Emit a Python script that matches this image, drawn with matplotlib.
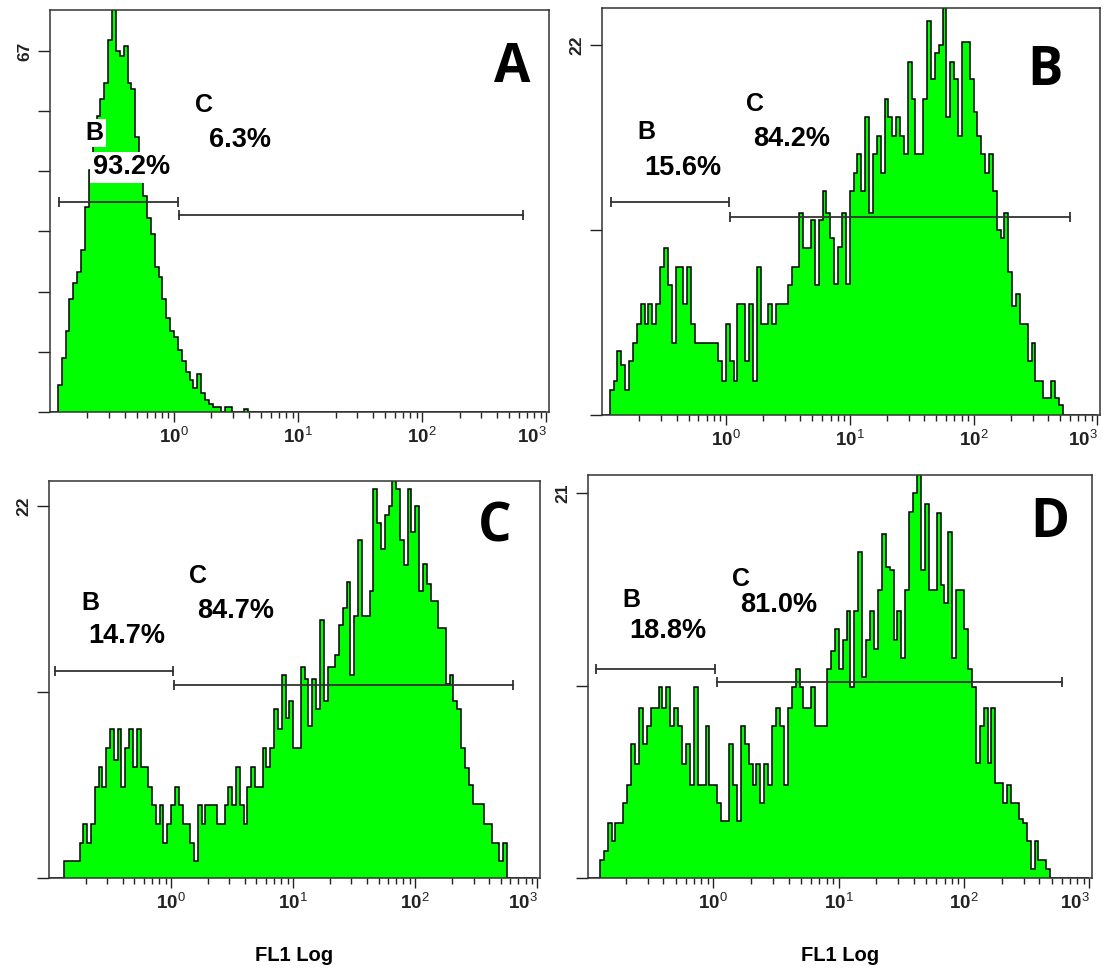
import matplotlib
matplotlib.use('Agg')
import matplotlib.pyplot as plt
import numpy as np

plt.rcParams['font.family'] = ['Liberation Sans', 'DejaVu Sans']
plt.rcParams['mathtext.fontset'] = 'custom'
plt.rcParams['mathtext.rm'] = 'Liberation Sans'
plt.rcParams['mathtext.bf'] = 'Liberation Sans:bold'

# channel counts, 128 log bins from 10^-1 to 10^3
counts_a = [0, 0, 5, 10, 15, 21, 24, 26, 30, 38, 45, 50, 55, 58, 61, 69,
            76, 67, 66, 68, 61, 60, 51, 44, 40, 36, 33, 27, 25, 21, 17.5, 15,
            14, 11.5, 9.5, 7.5, 6, 4.5, 7, 3.5, 2.3, 1.5, 1, 1, 0, 1, 1, 0,
            0, 0, 0.6] + [0] * 77
counts_b = [0, 0, 1.5, 2, 3.8, 3, 1.5, 3.2, 4.3, 5.4, 6.6, 5.4, 6.6, 5.4, 6.6, 8.8,
            9.9, 7.7, 4.3, 8.8, 8.8, 6.6, 8.8, 5.4, 4.3, 4.3, 4.3, 4.3, 4.3, 4.3, 3.2, 2,
            5.4, 3.2, 2, 6.6, 6.6, 3.2, 6.6, 2, 8.8, 5.4, 5.4, 6.6, 5.4, 6.6, 6.6, 6.6,
            7.7, 8.8, 8.8, 12, 9.9, 9.9, 11.6, 7.7, 11.6, 13.3, 12, 10.5, 7.8, 10, 12, 7.8,
            13.3, 14.4, 15.5, 13.3, 17.7, 12, 15.5, 16.6, 14.4, 18.8, 17.7, 16.6, 17.7, 16.6, 15.5, 21,
            18.8, 15.5, 15.5, 18.8, 23.4, 20, 21.5, 22, 25, 17.7, 21, 20, 16.6, 22.2, 22.2, 20,
            18, 16.6, 15.5, 14.4, 15.5, 13.3, 11, 10.5, 12, 8.5, 6.5, 7.2, 5.4, 5.4, 3.2, 4.3,
            2, 2, 1, 1, 2, 1, 0.6] + [0] * 9
counts_c = [0, 0, 0, 0, 1, 1, 1, 1, 2.1, 3.2, 2.1, 3.2, 5.4, 6.6, 5.4, 7.7,
            8.8, 7, 8.8, 5.4, 7.7, 8.8, 6.6, 8.8, 6.6, 6.6, 5.4, 4.3, 3.2, 4.3, 2.1, 3.2,
            4.3, 5.4, 4.3, 3.2, 3.2, 2.1, 1, 4.3, 3.2, 4.3, 4.3, 4.3, 3.2, 3.2, 4.3, 5.4,
            4.3, 6.6, 4.3, 3.2, 5.4, 6.6, 5.4, 5.4, 7.7, 6.6, 7.7, 10, 8.8, 12, 9.5, 10.5,
            7.7, 7.7, 12.5, 11.8, 9, 11.8, 10, 15.3, 10.5, 12.5, 12.5, 13.2, 15, 16, 17.5, 12,
            15.5, 20, 15.5, 15.5, 17, 23, 21, 19.5, 21.5, 22, 25, 23, 20, 18.5, 23, 20.5,
            22, 17, 18.6, 17.4, 16.4, 16.4, 14.8, 14.8, 11.5, 12, 10.5, 10, 7.7, 6.5, 5.5, 4.4,
            4.4, 4.4, 3.2, 3.2, 2.1, 2.1, 1, 2.1] + [0] * 8
counts_d = [0, 0, 0, 1, 1.5, 3, 2, 3, 3, 4.1, 5.1, 7.3, 6.2, 9.3, 7.3, 8.3,
            9.3, 9.3, 10.4, 9.3, 10.4, 8.3, 9.3, 8.3, 6.2, 7.3, 5.1, 10.4, 5.1, 5.1, 8.3, 5.1,
            5.1, 4.1, 3.1, 3.1, 7.3, 5.1, 3.1, 8.3, 7.3, 6.2, 5.1, 6.2, 4.1, 6.2, 5.1, 8.3,
            9.3, 8.3, 5.1, 9.3, 10.4, 11.4, 10.4, 9.3, 9.3, 10.4, 8.3, 8.3, 8.3, 11.4, 12.4, 13.6,
            11.4, 13, 14.6, 10.4, 14.6, 17.8, 11, 13, 14.6, 12.5, 15.7, 18.8, 17, 16.8, 13, 14.6,
            12, 15.7, 20, 21, 23, 16.8, 20.4, 15.7, 15.7, 19.9, 16, 15, 18.9, 12, 15.7, 15.7,
            13.6, 11.4, 10.4, 6.3, 8.3, 9.3, 6.3, 9.3, 5.2, 5.2, 4.1, 5.1, 4.1, 4.1, 3.2, 3,
            2, 0.5, 2, 1, 1, 0.5] + [0] * 10
edges = np.logspace(-1, 3, 129)

letters = ['A', 'B', 'C', 'D']
pct_b = ['93.2%', '15.6%', '14.7%', '18.8%']
pct_c = ['6.3%', '84.2%', '84.7%', '81.0%']
ymax_label = [67, 22, 22, 21]

# layout / annotation settings per panel
rects_px = [(50, 10, 549, 412), (602, 8, 1100, 415), (49, 481, 540, 878), (588, 475, 1092, 878)]
ytops = [74.6, 24.2, 23.5, 22.0]
nyt = [6, 2, 2, 2]
gate_b = [(0.119, 1.07, 39.0), (0.118, 1.07, 12.65), (0.113, 1.04, 12.25), (0.115, 1.04, 11.4)]
gate_c = [(1.09, 646, 36.5), (1.09, 603, 11.8), (1.055, 630, 11.4), (1.06, 606, 10.7)]
pos_bl = [(-0.641, 51.7), (-0.645, 16.8), (-0.663, 16.3), (-0.657, 15.2)]
pos_bp = [(-0.346, 45.4), (-0.347, 14.7), (-0.36, 14.3), (-0.367, 13.5)]
pos_cl = [(0.237, 57.0), (0.235, 18.5), (0.217, 17.9), (0.222, 16.3)]
pos_cp = [(0.535, 50.5), (0.533, 16.4), (0.525, 15.8), (0.52, 14.9)]
pos_letter = [(0.926, 0.856), (0.89, 0.845), (0.908, 0.882), (0.917, 0.881)]

W, H = 1107, 972
fig = plt.figure(figsize=(W / 100, H / 100), dpi=100)
allcounts = [counts_a, counts_b, counts_c, counts_d]

for k in range(4):
    x0, y0, x1, y1 = rects_px[k]
    ax = fig.add_axes([x0 / W, 1 - y1 / H, (x1 - x0) / W, (y1 - y0) / H])
    vals = np.array(allcounts[k])
    ax.stairs(vals, edges, fill=True, color='#00ff00', lw=0)
    ax.stairs(vals, edges, color='black', lw=1.1)
    ax.set_xscale('log')
    ax.set_xlim(0.1, 1050)
    ax.set_ylim(0, ytops[k])

    ax.set_xticks([1, 10, 100, 1000])
    ax.set_xticklabels([r'$\mathbf{10}^{%d}$' % e for e in range(4)], fontsize=13.5)
    ax.get_xticklabels()[-1].set_horizontalalignment('right')
    minors = [m * 10.0 ** d for d in range(-1, 3) for m in range(2, 10)]
    ax.set_xticks(minors, minor=True)
    ax.set_xticklabels([], minor=True)
    ax.tick_params(axis='x', which='major', length=7, width=1, pad=3, colors='#222')
    ax.tick_params(axis='x', which='minor', length=4.5, width=1, colors='#222')

    yt = np.linspace(0, ymax_label[k], nyt[k] + 1)
    ax.set_yticks(yt)
    ax.set_yticklabels([''] * nyt[k] + [str(ymax_label[k])], rotation=90,
                       va='center', fontsize=12.5, fontweight='bold')
    ax.tick_params(axis='y', length=9, width=1, pad=4, colors='#222')
    for s in ax.spines.values():
        s.set_color('#333')
        s.set_linewidth(1.1)

    gx0, gx1, gy = gate_b[k]
    ax.plot([gx0, gx1], [gy, gy], color='#333', lw=1.3, marker='|', ms=7, mew=1.3)
    gx0, gx1, gy = gate_c[k]
    ax.plot([gx0, gx1], [gy, gy], color='#333', lw=1.3, marker='|', ms=7, mew=1.3)

    box = dict(facecolor='white', edgecolor='none', pad=1.5)
    ax.text(10 ** pos_bl[k][0], pos_bl[k][1], 'B', fontsize=18, fontweight='bold',
            ha='center', va='center', bbox=box)
    ax.text(10 ** pos_bp[k][0], pos_bp[k][1], pct_b[k], fontsize=19.5, fontweight='bold',
            ha='center', va='center', bbox=box)
    ax.text(10 ** pos_cl[k][0], pos_cl[k][1], 'C', fontsize=18, fontweight='bold',
            ha='center', va='center')
    ax.text(10 ** pos_cp[k][0], pos_cp[k][1], pct_c[k], fontsize=19.5, fontweight='bold',
            ha='center', va='center')
    ax.text(pos_letter[k][0], pos_letter[k][1], letters[k], transform=ax.transAxes,
            fontsize=38, fontweight='bold', family=['Open Sans', 'DejaVu Sans'],
            ha='center', va='center')

    if k >= 2:
        fig.text((x0 + x1) / 2 / W, 1 - 955 / H, 'FL1 Log', fontsize=14.5,
                 fontweight='bold', ha='center', va='center')

fig.savefig('out.png', dpi=100)
